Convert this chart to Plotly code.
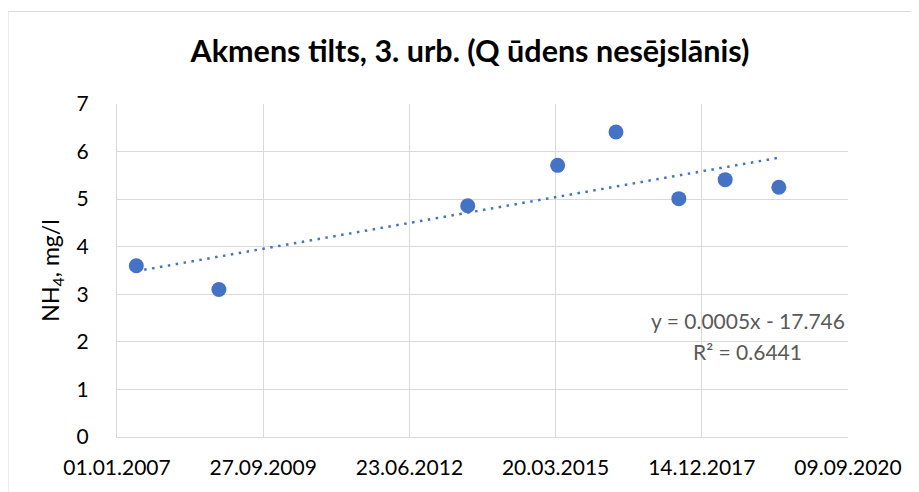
import numpy as np
import pandas as pd
import plotly.graph_objects as go

# Data
dates = ["2007-05-13", "2008-11-28", "2013-07-27", "2015-04-03",
         "2016-05-06", "2017-07-10", "2018-05-23", "2019-05-25"]
nh4 = [3.60, 3.10, 4.86, 5.71, 6.41, 5.01, 5.41, 5.25]
title_text = "Akmens tilts, 3. urb. (Q ūdens nesējslānis)"
eq_text = "y = 0.0005x - 17.746"
r2_text = "R² = 0.6441"
y_ticks = [0, 1, 2, 3, 4, 5, 6, 7]

W, H = 919, 492
OFF = 8  # page body margin offset
# target plot area in page pixels
P_L, P_R, P_T, P_B = 117, 848, 104, 437
ML = P_L - OFF
MT = P_T - OFF
pw = P_R - P_L
ph = P_B - P_T
MR = W - ML - pw
MB = H - MT - ph

def px_x(p):
    return (p - P_L) / pw

def px_y(p):
    return (P_B - p) / ph

# Linear trendline (least squares on day numbers)
dt = pd.to_datetime(dates)
days = (dt - pd.Timestamp("1899-12-30")).days.values.astype(float)
k, b = np.polyfit(days, nh4, 1)
tx = [dt.min(), dt.max()]
tdays = np.array([days.min(), days.max()])
ty = k * tdays + b

blue = "#4472C4"
grid = "#D9D9D9"
font_family = "Lato, 'Open Sans', sans-serif"

fig = go.Figure()
fig.add_trace(go.Scatter(
    x=tx, y=ty, mode="lines",
    line=dict(color=blue, width=2.5, dash="2.5px,5.5px"),
    showlegend=False, hoverinfo="skip"))
fig.add_trace(go.Scatter(
    x=dt, y=nh4, mode="markers",
    marker=dict(color=blue, size=15, line=dict(width=0)),
    showlegend=False))

fig.update_layout(
    width=W, height=H,
    margin=dict(l=ML, r=MR, t=MT, b=MB, autoexpand=False),
    paper_bgcolor="white", plot_bgcolor="white",
    font=dict(family=font_family, color="#000000", size=21),
    title=dict(text="<b>" + title_text + "</b>", x=(470 - OFF) / W, xref="container",
               y=1 - (51 - OFF) / H, yref="container", xanchor="center", yanchor="middle",
               font=dict(size=30.5, color="#000000", family=font_family)),
    xaxis=dict(
        type="date",
        range=["2007-01-01", "2020-09-09"],
        tick0="2007-01-01", dtick=1000 * 86400000,
        tickformat="%d.%m.%Y",
        showgrid=True, gridcolor=grid, gridwidth=1,
        showline=True, linecolor=grid, linewidth=1,
        zeroline=False, ticks="", ticklabelstandoff=12,
        tickfont=dict(size=21, color="#000000"),
        automargin=False),
    yaxis=dict(
        range=[0, 7], tickvals=y_ticks,
        showgrid=True, gridcolor=grid, gridwidth=1,
        showline=True, linecolor=grid, linewidth=1,
        zeroline=False, ticks="", ticklabelstandoff=23,
        tickfont=dict(size=21, color="#000000"),
        automargin=False,
        title=dict(text="NH<sub>4</sub>, mg/l", standoff=10,
                   font=dict(size=23, color="#000000"))),
)

fig.add_annotation(text=eq_text, xref="paper", yref="paper",
                   x=px_x(747.5), y=px_y(320), xanchor="center", yanchor="middle",
                   showarrow=False, font=dict(size=21, color="#595959"))
fig.add_annotation(text=r2_text, xref="paper", yref="paper",
                   x=px_x(747.5), y=px_y(351), xanchor="center", yanchor="middle",
                   showarrow=False, font=dict(size=21, color="#595959"))

# Chart-area border
fig.add_shape(type="rect", xref="paper", yref="paper",
              x0=px_x(8), x1=px_x(W + 20), y0=px_y(H + 20), y1=px_y(11.5),
              line=dict(color=grid, width=1), fillcolor="rgba(0,0,0,0)", layer="below")

fig.write_html("out.html")
